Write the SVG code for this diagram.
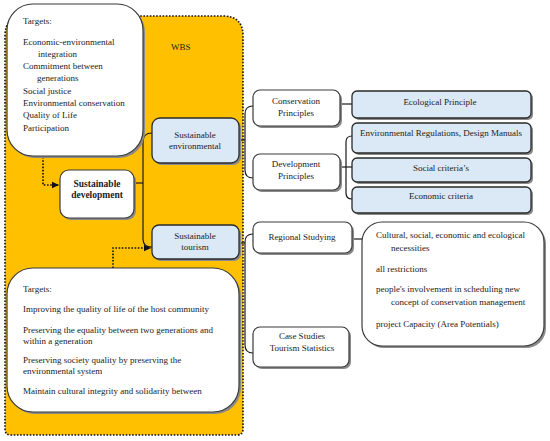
<svg xmlns="http://www.w3.org/2000/svg" width="550" height="441" viewBox="0 0 550 441">
<defs>
<style>
text{font-family:"Liberation Serif","Times New Roman",serif;font-size:9px;fill:#222}
.c{text-anchor:middle}
.b{font-weight:bold;font-size:9.5px}
.box{fill:#fff;stroke:#3a3a3a;stroke-width:1.2}
.blue{fill:#dbe9f6;stroke:#2a2a2a;stroke-width:1.3}
.sh{fill:#8a8a8a}
.ln{fill:none;stroke:#1a1a1a;stroke-width:1.2}
.dot{fill:none;stroke:#111;stroke-width:1.6;stroke-dasharray:1.6 1.6}
</style>
<marker id="ah" markerWidth="8" markerHeight="8" refX="7" refY="4" orient="auto" markerUnits="userSpaceOnUse">
<path d="M0,0.8 L7,4 L0,7.2 Z" fill="#111"/>
</marker>
</defs>
<rect width="550" height="441" fill="#fff"/>

<g id="wbs">
<path d="M25,16 H223 Q243,16 243,36 V429 Q243,435 237,435 H11 Q5,435 5,429 V36 Q5,16 25,16 Z" fill="#ffc000" stroke="#111" stroke-width="1.6" stroke-dasharray="1.6 1.6"/>
<text x="171" y="50">WBS</text>
</g>

<g id="connectors">
<path class="dot" d="M43,157 V185 H59" marker-end="url(#ah)"/>
<path class="dot" d="M113,268 V248 H151" marker-end="url(#ah)"/>
<path class="ln" d="M134,183 H143"/>
<path class="ln" d="M152,133 Q143,133 143,142 V239 Q143,247 152,247"/>
<path class="ln" d="M239,140 H245"/>
<path class="ln" d="M253,106 Q245,106 245,114 V170 Q245,178 253,178"/>
<path class="ln" d="M340,104 H352"/>
<path class="ln" d="M340,167 H352"/>
<path class="ln" d="M352,136 Q346,136 346,142 V193 Q346,199 352,199"/>
<path class="ln" d="M239,243 H245"/>
<path class="ln" d="M253,234 Q245,234 245,242 V345 Q245,353 253,353"/>
<path class="ln" d="M352,239 H362"/>
</g>

<g id="targets-top">
<rect class="sh" x="9" y="6" width="136" height="152" rx="26"/>
<rect class="box" x="7" y="4" width="136" height="152" rx="26"/>
<text x="23" y="24">Targets:</text>
<text x="23" y="45">Economic-environmental</text>
<text x="38" y="57">integration</text>
<text x="23" y="69">Commitment between</text>
<text x="37" y="81">generations</text>
<text x="23" y="94">Social justice</text>
<text x="23" y="106">Environmental conservation</text>
<text x="23" y="118">Quality of Life</text>
<text x="23" y="131">Participation</text>
</g>

<g id="sustainable-development">
<rect class="sh" x="62" y="172" width="74" height="48" rx="9"/>
<rect class="box" x="60" y="170" width="74" height="48" rx="9"/>
<text class="c b" x="97" y="187">Sustainable</text>
<text class="c b" x="97" y="198">development</text>
</g>

<g id="sustainable-environmental">
<rect class="sh" x="154" y="120" width="87" height="45" rx="8"/>
<rect class="blue" x="152" y="118" width="87" height="45" rx="8"/>
<text class="c" x="195" y="138">Sustainable</text>
<text class="c" x="195" y="149">environmental</text>
</g>

<g id="sustainable-tourism">
<rect class="sh" x="154" y="227" width="87" height="34" rx="7"/>
<rect class="blue" x="152" y="225" width="87" height="34" rx="7"/>
<text class="c" x="195" y="239">Sustainable</text>
<text class="c" x="195" y="250">tourism</text>
</g>

<g id="targets-bottom">
<rect class="sh" x="9" y="270" width="232" height="144" rx="26"/>
<rect class="box" x="7" y="268" width="232" height="144" rx="26"/>
<text x="23" y="292">Targets:</text>
<text x="23" y="312">Improving the quality of life of the host community</text>
<text x="23" y="333">Preserving the equality between two generations and</text>
<text x="23" y="344">within a generation</text>
<text x="23" y="363">Preserving society quality by preserving the</text>
<text x="23" y="374">environmental system</text>
<text x="23" y="394">Maintain cultural integrity and solidarity between</text>
</g>

<g id="conservation-principles">
<rect class="sh" x="255" y="92" width="87" height="36" rx="7"/>
<rect class="box" x="253" y="90" width="87" height="36" rx="7"/>
<text class="c" x="296" y="104">Conservation</text>
<text class="c" x="296" y="116">Principles</text>
</g>

<g id="development-principles">
<rect class="sh" x="255" y="156" width="87" height="36" rx="7"/>
<rect class="box" x="253" y="154" width="87" height="36" rx="7"/>
<text class="c" x="296" y="167">Development</text>
<text class="c" x="296" y="179">Principles</text>
</g>

<g id="ecological-principle">
<rect class="sh" x="354" y="93" width="179" height="27" rx="5"/>
<rect class="blue" x="352" y="91" width="179" height="27" rx="5"/>
<text class="c" x="440" y="105">Ecological Principle</text>
</g>

<g id="environmental-regulations">
<rect class="sh" x="354" y="125" width="179" height="30" rx="5"/>
<rect class="blue" x="352" y="123" width="179" height="30" rx="5"/>
<text class="c" x="441" y="136">Environmental Regulations, Design Manuals</text>
</g>

<g id="social-criteria">
<rect class="sh" x="354" y="160" width="179" height="24" rx="5"/>
<rect class="blue" x="352" y="158" width="179" height="24" rx="5"/>
<text class="c" x="441" y="171">Social criteria’s</text>
</g>

<g id="economic-criteria">
<rect class="sh" x="354" y="189" width="179" height="26" rx="5"/>
<rect class="blue" x="352" y="187" width="179" height="26" rx="5"/>
<text class="c" x="441" y="199">Economic criteria</text>
</g>

<g id="regional-studying">
<rect class="sh" x="255" y="224" width="99" height="31" rx="7"/>
<rect class="box" x="253" y="222" width="99" height="31" rx="7"/>
<text class="c" x="302" y="240">Regional Studying</text>
</g>

<g id="case-studies">
<rect class="sh" x="255" y="329" width="96" height="40" rx="7"/>
<rect class="box" x="253" y="327" width="96" height="40" rx="7"/>
<text class="c" x="302" y="339">Case Studies</text>
<text class="c" x="302" y="351">Tourism Statistics</text>
</g>

<g id="regional-details">
<rect class="sh" x="364" y="224" width="182" height="124" rx="20"/>
<rect class="box" x="362" y="222" width="182" height="124" rx="20"/>
<text x="376" y="238">Cultural, social, economic and ecological</text>
<text x="391" y="251">necessities</text>
<text x="376" y="272">all restrictions</text>
<text x="376" y="292">people's involvement in scheduling new</text>
<text x="391" y="305">concept of conservation management</text>
<text x="376" y="327">project Capacity (Area Potentials)</text>
</g>
</svg>
